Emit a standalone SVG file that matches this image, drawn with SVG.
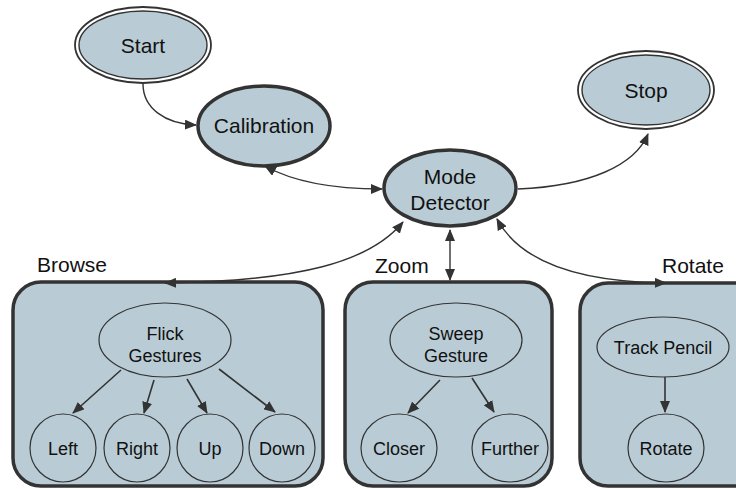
<svg xmlns="http://www.w3.org/2000/svg" width="736" height="489" viewBox="0 0 736 489">
<defs>
<style>
.node{fill:#b9ccd5;stroke:#333;}
.thin{stroke-width:1.2;}
.thick{stroke-width:3.5;}
.dbl-out{fill:#fff;stroke:#333;stroke-width:1.8;}
.dbl-in{fill:#b9ccd5;stroke:#333;stroke-width:1.4;}
.box{fill:#b9ccd5;stroke:#333;stroke-width:3.5;}
text{font-family:"Liberation Sans",Arial,sans-serif;fill:#111;text-anchor:middle;}
.big{font-size:21px;}
.small{font-size:18px;}
.lbl{font-size:21px;text-anchor:start;}
.edge{fill:none;stroke:#333;stroke-width:1.4;}
.inner{fill:none;stroke:#333;stroke-width:1.6;}
</style>
<marker id="ah" viewBox="0 0 12 10" refX="11" refY="5" markerWidth="12" markerHeight="10" markerUnits="userSpaceOnUse" orient="auto-start-reverse">
<path d="M0,0 L12,5 L0,10 z" fill="#333"/>
</marker>
</defs>

<g id="start">
<ellipse class="dbl-out" cx="143" cy="45" rx="68" ry="38"/>
<ellipse class="dbl-in" cx="143" cy="45" rx="64" ry="34"/>
<text class="big" x="143" y="53">Start</text>
</g>

<g id="calibration">
<ellipse class="node thick" cx="264" cy="126" rx="66" ry="40"/>
<text class="big" x="264" y="133">Calibration</text>
</g>

<g id="stop">
<ellipse class="dbl-out" cx="646" cy="90" rx="68" ry="39"/>
<ellipse class="dbl-in" cx="646" cy="90" rx="64" ry="35"/>
<text class="big" x="646" y="98">Stop</text>
</g>

<g id="mode-detector">
<ellipse class="node thick" cx="450" cy="188" rx="66" ry="38"/>
<text class="big" x="450" y="184">Mode</text>
<text class="big" x="450" y="210">Detector</text>
</g>

<g id="browse">
<rect class="box" x="13" y="282" width="310" height="204" rx="28"/>
<text class="lbl" x="37" y="272">Browse</text>
<g id="flick-gestures">
<ellipse class="node thin" cx="165" cy="340" rx="66" ry="37"/>
<text class="small" x="165" y="340">Flick</text>
<text class="small" x="165" y="362">Gestures</text>
</g>
<g id="left"><ellipse class="node thin" cx="63" cy="448" rx="33" ry="34"/><text class="small" x="63" y="455">Left</text></g>
<g id="right"><ellipse class="node thin" cx="137" cy="448" rx="33" ry="34"/><text class="small" x="137" y="455">Right</text></g>
<g id="up"><ellipse class="node thin" cx="210" cy="448" rx="33" ry="34"/><text class="small" x="210" y="455">Up</text></g>
<g id="down"><ellipse class="node thin" cx="282" cy="448" rx="33" ry="34"/><text class="small" x="282" y="455">Down</text></g>
<path class="inner" d="M121,370 L73,413" marker-end="url(#ah)"/>
<path class="inner" d="M154,380 L144,413" marker-end="url(#ah)"/>
<path class="inner" d="M187,379 L207,413" marker-end="url(#ah)"/>
<path class="inner" d="M219,369 L275,412" marker-end="url(#ah)"/>
</g>

<g id="zoom">
<rect class="box" x="345" y="282" width="207" height="204" rx="28"/>
<text class="lbl" x="375" y="273">Zoom</text>
<g id="sweep-gesture">
<ellipse class="node thin" cx="456" cy="340" rx="66" ry="37"/>
<text class="small" x="456" y="340">Sweep</text>
<text class="small" x="456" y="362">Gesture</text>
</g>
<g id="closer"><ellipse class="node thin" cx="399" cy="448" rx="38" ry="34"/><text class="small" x="399" y="455">Closer</text></g>
<g id="further"><ellipse class="node thin" cx="510" cy="448" rx="38" ry="34"/><text class="small" x="510" y="455">Further</text></g>
<path class="inner" d="M440,380 L408,413" marker-end="url(#ah)"/>
<path class="inner" d="M472,378 L494,412" marker-end="url(#ah)"/>
</g>

<g id="rotate">
<rect class="box" x="580" y="283" width="190" height="203" rx="28"/>
<text class="lbl" x="662" y="273">Rotate</text>
<g id="track-pencil">
<ellipse class="node thin" cx="663" cy="347" rx="66" ry="30"/>
<text class="small" x="663" y="354">Track Pencil</text>
</g>
<g id="rotate-node"><ellipse class="node thin" cx="666" cy="448" rx="38" ry="34"/><text class="small" x="666" y="455">Rotate</text></g>
<path class="inner" d="M665,377 L665,412" marker-end="url(#ah)"/>
</g>

<g id="connectors">
<path class="edge" d="M143,84 C143,108 165,124 196,125" marker-end="url(#ah)"/>
<path class="edge" d="M265,166 C290,180 330,189 382,189" marker-start="url(#ah)" marker-end="url(#ah)"/>
<path class="edge" d="M518,189 C590,186 635,165 648,134" marker-end="url(#ah)"/>
<path class="edge" d="M403,222 C370,262 300,281 165,283" marker-start="url(#ah)" marker-end="url(#ah)"/>
<path class="edge" d="M450,230 L450,280" marker-start="url(#ah)" marker-end="url(#ah)"/>
<path class="edge" d="M497,219 C520,262 580,282 666,283" marker-start="url(#ah)" marker-end="url(#ah)"/>
</g>
</svg>
